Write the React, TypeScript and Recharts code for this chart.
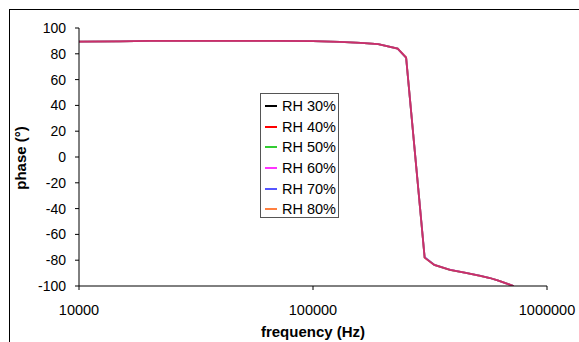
import React from 'react';
import { LineChart, Line, XAxis, YAxis, Legend } from 'recharts';

// frequency points (Hz)
const FREQ = [10000, 15000, 20000, 30000, 50000, 70000, 100000, 130000, 160000, 190000, 230000, 250000, 300000, 330000, 385000, 450000, 520000, 570000, 620000, 720000];

// phase (deg) per relative humidity
const RH30 = [89.5, 89.6, 90, 90, 90, 90, 89.8, 89.3, 88.5, 87.5, 84, 77, -78, -83.7, -87.5, -89.8, -92.2, -93.8, -95.9, -100];
const RH40 = [89.5, 89.6, 90, 90, 90, 90, 89.8, 89.3, 88.5, 87.5, 84, 77, -78, -83.7, -87.5, -89.8, -92.2, -93.8, -95.9, -100];
const RH50 = [89.5, 89.6, 90, 90, 90, 90, 89.8, 89.3, 88.5, 87.5, 84.1, 77, -78, -83.6, -87.5, -89.8, -92.2, -93.8, -95.9, -100];
const RH60 = [89.5, 89.6, 90, 90, 90, 90, 89.8, 89.3, 88.5, 87.5, 84, 77.1, -78, -83.7, -87.4, -89.8, -92.2, -93.8, -95.9, -100];
const RH70 = [89.5, 89.6, 90, 90, 90, 90, 89.8, 89.3, 88.5, 87.5, 84, 77, -77.5, -83.7, -87.5, -89.9, -92.2, -93.8, -95.9, -100];
const RH80 = [89.5, 89.6, 90, 90, 90, 90, 89.8, 89.3, 88.5, 87.5, 84, 77.5, -78, -83.7, -87.5, -89.8, -92.3, -93.8, -95.9, -100];

const X_TICKS = [10000, 100000, 1000000];
const Y_TICKS = [-100, -80, -60, -40, -20, 0, 20, 40, 60, 80, 100];

// legend order
const SERIES = [
  { key: 'rh30', name: 'RH 30%', values: RH30, color: '#000000' },
  { key: 'rh40', name: 'RH 40%', values: RH40, color: '#ff0000' },
  { key: 'rh50', name: 'RH 50%', values: RH50, color: '#33cc33' },
  { key: 'rh60', name: 'RH 60%', values: RH60, color: '#ff33ff' },
  { key: 'rh70', name: 'RH 70%', values: RH70, color: '#5555ff' },
  { key: 'rh80', name: 'RH 80%', values: RH80, color: '#ff8040' },
];
// drawing order (the overlapped curves blend to a red-purple)
const DRAW_ORDER = ['rh30', 'rh50', 'rh80', 'rh60', 'rh70', 'rh40'];

const data = FREQ.map((f, i) => {
  const row: Record<string, number> = { f };
  SERIES.forEach(s => { row[s.key] = s.values[i]; });
  return row;
});

const FONT = 'Arial, "Liberation Sans", sans-serif';

const LegendBox = () => (
  <div style={{
    width: 79, height: 125, boxSizing: 'border-box', border: '1px solid #555', background: '#fff',
    paddingTop: 2, fontFamily: FONT, fontSize: 14.5, color: '#000', textAlign: 'left',
  }}>
    {SERIES.map(s => (
      <div key={s.key} style={{ height: 20.6, display: 'flex', alignItems: 'center' }}>
        <span style={{ display: 'inline-block', width: 12, height: 2, background: s.color, marginLeft: 4, marginRight: 5 }} />
        <span style={{ lineHeight: '20px', whiteSpace: 'nowrap' }}>{s.name}</span>
      </div>
    ))}
  </div>
);

const App: React.FC = () => {
  return (
    <div style={{ position: 'relative', width: 579, height: 342, background: '#fff', overflow: 'hidden' }}>
      <style>{'body{margin:0}'}</style>
      <div style={{ position: 'absolute', left: 9, top: 9, width: 600, height: 400, borderLeft: '1px solid #000', borderTop: '1px solid #000' }} />
      <div style={{ position: 'absolute', left: 0, top: 0 }}>
        <LineChart width={579} height={342} data={data} margin={{ top: 28, right: 32, bottom: 0, left: 0 }}>
          <XAxis
            dataKey="f"
            type="number"
            scale="log"
            domain={[10000, 1000000]}
            ticks={X_TICKS}
            interval={0}
            allowDataOverflow
            height={56}
            stroke="#000"
            tickSize={4}
            tickMargin={15}
            tick={{ fill: '#000', fontSize: 14.5, fontFamily: FONT }}
            label={({ viewBox }: any) => (
              <text x={viewBox.x + viewBox.width / 2} y={337} textAnchor="middle"
                style={{ fontFamily: FONT, fontSize: 15, fontWeight: 'bold', fill: '#000' }}>
                frequency (Hz)
              </text>
            )}
          />
          <YAxis
            type="number"
            domain={[-100, 100]}
            ticks={Y_TICKS}
            interval={0}
            allowDataOverflow
            width={79}
            stroke="#000"
            tickSize={4}
            tickMargin={9}
            tick={{ fill: '#000', fontSize: 14, fontFamily: FONT }}
            label={() => (
              <text x={26} y={158} textAnchor="middle" transform="rotate(-90 26 158)"
                style={{ fontFamily: FONT, fontSize: 15, fontWeight: 'bold', fill: '#000' }}>
                phase (°)
              </text>
            )}
          />
          <Legend
            layout="horizontal"
            verticalAlign="middle"
            content={<LegendBox />}
            wrapperStyle={{ position: 'absolute', left: 260, top: 93, width: 79, height: 125 }}
          />
          {DRAW_ORDER.map(k => SERIES.find(s => s.key === k)!).map(s => (
            <Line key={s.key} dataKey={s.key} name={s.name} type="linear" stroke={s.color}
              strokeWidth={1.8} strokeOpacity={0.5} dot={false} isAnimationActive={false} />
          ))}
        </LineChart>
      </div>
    </div>
  );
};

export default App;
